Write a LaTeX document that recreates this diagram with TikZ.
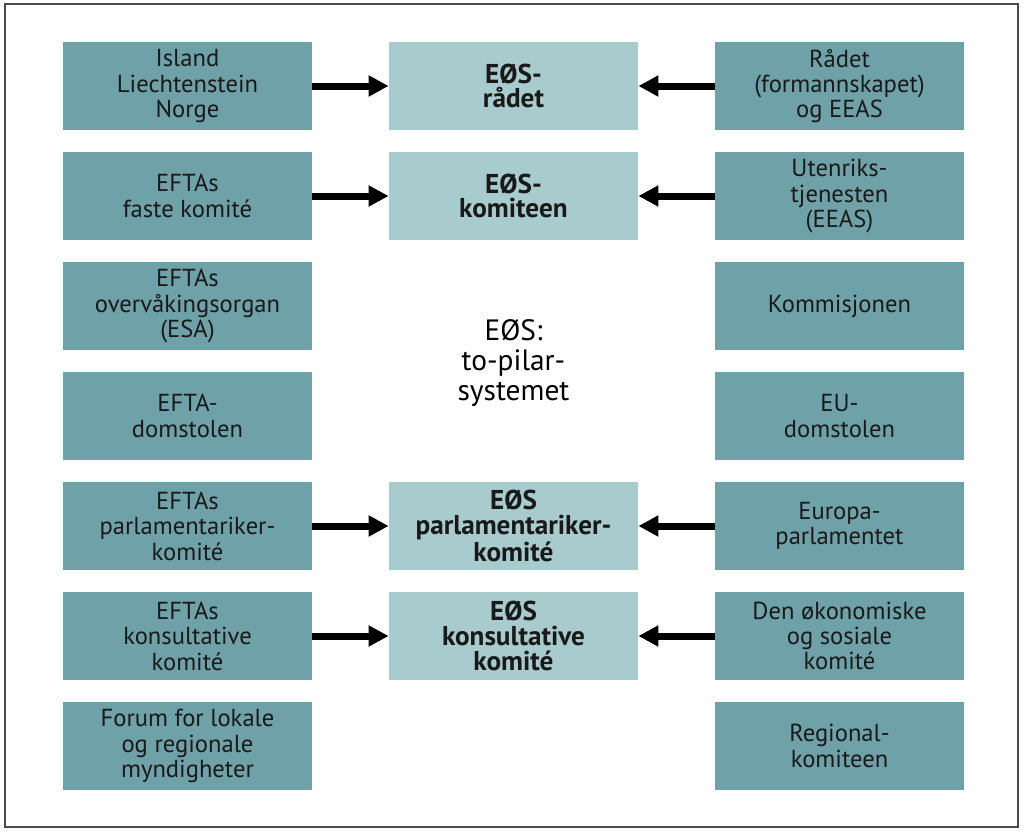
\documentclass[tikz,border=0pt]{standalone}
\usepackage{fontspec}
\setmainfont{PT Sans}
\usetikzlibrary{arrows.meta}
\definecolor{pillarDark}{HTML}{6FA1A8}
\definecolor{pillarLight}{HTML}{A8CBCE}
\definecolor{frameGray}{HTML}{4A4A4A}

\begin{document}
\begin{tikzpicture}[x=0.5pt, y=-0.5pt,
    organ/.style={fill=pillarDark, minimum width=124.5pt, minimum height=44pt,
        inner sep=0pt, align=center, text=black!90,
        font=\fontsize{12.3}{12.7}\selectfont},
    joint/.style={organ, fill=pillarLight,
        font=\fontsize{13.6}{12.3}\selectfont\bfseries},
    link/.style={-{Triangle[length=10pt, width=10pt]}, line width=3.5pt}]
    \useasboundingbox (0,0) rectangle (1024,835);
    \draw[frameGray, line width=0.8pt] (5,4) rectangle (1018,827);

    % EFTA pillar
    \node[organ] (states)     at (187.5,86)  {Island\\Liechtenstein\\Norge};
    \node[organ] (eftaSC)     at (187.5,196) {EFTAs\\faste komité};
    \node[organ] (esa)        at (187.5,306) {EFTAs\\overvåkingsorgan\\(ESA)};
    \node[organ] (eftaCourt)  at (187.5,416) {EFTA-\\domstolen};
    \node[organ] (eftaParl)   at (187.5,526) {EFTAs\\parlamentariker-\\komité};
    \node[organ] (eftaCons)   at (187.5,636) {EFTAs\\konsultative\\komité};
    \node[organ] (forum)      at (187.5,746) {Forum for lokale\\og regionale\\myndigheter};

    % EU pillar
    \node[organ] (council)    at (839.5,86)  {Rådet\\(formannskapet)\\og EEAS};
    \node[organ] (eeas)       at (839.5,196) {Utenriks-\\tjenesten\\(EEAS)};
    \node[organ] (commission) at (839.5,306) {Kommisjonen};
    \node[organ] (euCourt)    at (839.5,416) {EU-\\domstolen};
    \node[organ] (europarl)   at (839.5,526) {Europa-\\parlamentet};
    \node[organ] (eesc)       at (839.5,636) {Den økonomiske\\og sosiale\\komité};
    \node[organ] (cor)        at (839.5,746) {Regional-\\komiteen};

    % joint EEA bodies
    \node[joint] (eeaCouncil) at (513.5,86)  {EØS-\\rådet};
    \node[joint] (eeaComm)    at (513.5,196) {EØS-\\komiteen};
    \node[joint] (eeaParl)    at (513.5,526) {EØS\\parlamentariker-\\komité};
    \node[joint] (eeaCons)    at (513.5,636) {EØS\\konsultative\\komité};

    \node[align=center, font=\fontsize{14.7}{15}\selectfont] (pillars) at (513.5,363)
        {EØS:\\to-pilar-\\systemet};

    \foreach \from/\to in {states/eeaCouncil, eftaSC/eeaComm, eftaParl/eeaParl, eftaCons/eeaCons,
        council/eeaCouncil, eeas/eeaComm, europarl/eeaParl, eesc/eeaCons}
        \draw[link] (\from) -- (\to);
\end{tikzpicture}
\end{document}
